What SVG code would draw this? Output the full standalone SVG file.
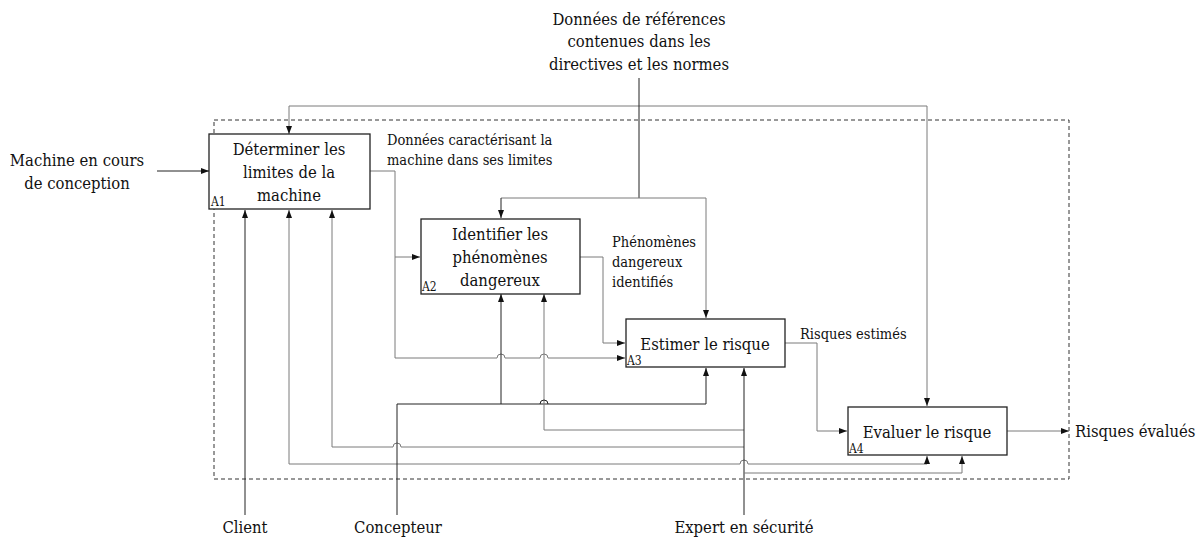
<svg xmlns="http://www.w3.org/2000/svg" width="1202" height="540" viewBox="0 0 1202 540">
<style>
text{font-family:'DejaVu Serif',serif;font-stretch:condensed;fill:#111}
.bx{fill:#fff;stroke:#222;stroke-width:1.3}
.t{font-size:16.5px;text-anchor:middle}
.n{font-size:12px}
.l{font-size:14.5px}
.lab{font-size:16.5px}
.c{fill:none;stroke:#222;stroke-width:1}
.g{fill:none;stroke:#7a7a7a;stroke-width:1}
.a{marker-end:url(#ah)}
</style>
<defs>
<marker id="ah" viewBox="0 0 8 6" refX="8" refY="3" markerWidth="8" markerHeight="6" markerUnits="userSpaceOnUse" orient="auto">
<path d="M0,0 L8,3 L0,6 z" fill="#111"/>
</marker>
</defs>
<rect x="214" y="120" width="855" height="359" fill="none" stroke="#333" stroke-width="1" stroke-dasharray="4 3"/>
<g id="connectors">
<path class="c a" d="M157 171 H209"/>
<path class="g a" d="M289 106 H927 V406"/>
<path class="g a" d="M289 106 V134"/>
<path class="c" d="M639 78 V198"/>
<path class="g a" d="M501 198 H706 V318"/>
<path class="c a" d="M501 198 V218"/>
<path class="g a" d="M370 171 H395 V257 H420"/>
<path class="g a" d="M395 257 V358 H497 a4 4 0 0 1 8 0 H540 a4 4 0 0 1 8 0 H625"/>
<path class="g a" d="M580 257 H603 V343 H625"/>
<path class="g a" d="M785 343 H817 V431 H847"/>
<path class="g a" d="M1007 431 H1069"/>
<path class="c a" d="M245 515 V210"/>
<path class="g a" d="M927 464 H748 a4 4 0 0 0 -8 0 H289 V210"/>
<path class="g a" d="M927 464 V456"/>
<path class="g a" d="M744 447 H401 a4 4 0 0 0 -8 0 H332 V210"/>
<path class="c a" d="M397 515 V404 H706 V368"/>
<path class="c a" d="M501 404 V294"/>
<path class="g a" d="M744 430 H544 V294"/>
<path class="c" d="M540 404 a4 4 0 0 1 8 0"/>
<path class="c a" d="M744 515 V368"/>
<path class="g a" d="M744 473 H962 V456"/>
</g>
<g id="A1">
<rect class="bx" x="209" y="134" width="161" height="75"/>
<text class="t" x="289" y="155">Déterminer les</text>
<text class="t" x="289" y="178">limites de la</text>
<text class="t" x="289" y="201">machine</text>
<text class="n" x="211" y="206">A1</text>
</g>
<g id="A2">
<rect class="bx" x="421" y="219" width="159" height="75"/>
<text class="t" x="500" y="240">Identifier les</text>
<text class="t" x="500" y="263">phénomènes</text>
<text class="t" x="500" y="286">dangereux</text>
<text class="n" x="422" y="291">A2</text>
</g>
<g id="A3">
<rect class="bx" x="626" y="319" width="159" height="48"/>
<text class="t" x="705" y="350">Estimer le risque</text>
<text class="n" x="627" y="365">A3</text>
</g>
<g id="A4">
<rect class="bx" x="848" y="407" width="159" height="48"/>
<text class="t" x="927" y="438">Evaluer le risque</text>
<text class="n" x="849" y="453">A4</text>
</g>
<g id="labels">
<text class="lab" x="639" y="25" text-anchor="middle">Données de références</text>
<text class="lab" x="639" y="47" text-anchor="middle">contenues dans les</text>
<text class="lab" x="639" y="70" text-anchor="middle">directives et les normes</text>
<text class="lab" x="77" y="166" text-anchor="middle">Machine en cours</text>
<text class="lab" x="77" y="189" text-anchor="middle">de conception</text>
<text class="l" x="387" y="145">Données caractérisant la</text>
<text class="l" x="387" y="165">machine dans ses limites</text>
<text class="l" x="612" y="247">Phénomènes</text>
<text class="l" x="612" y="267">dangereux</text>
<text class="l" x="612" y="287">identifiés</text>
<text class="l" x="800" y="339">Risques estimés</text>
<text class="lab" x="1075" y="437">Risques évalués</text>
<text class="lab" x="245" y="533" text-anchor="middle">Client</text>
<text class="lab" x="398" y="533" text-anchor="middle">Concepteur</text>
<text class="lab" x="744" y="533" text-anchor="middle">Expert en sécurité</text>
</g>
</svg>
